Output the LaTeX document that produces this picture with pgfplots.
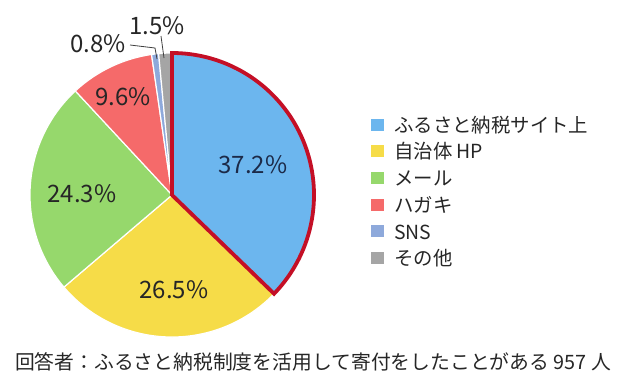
\documentclass[border=0pt]{standalone}
\usepackage{pgfplots}
\pgfplotsset{compat=1.18}
\usepackage{pgfplotstable}
\usepackage{fontspec}
\setmainfont{Noto Sans CJK JP}

\definecolor{cblue}{HTML}{6CB6EE}
\definecolor{cyellow}{HTML}{F6DC48}
\definecolor{cgreen}{HTML}{96D86C}
\definecolor{cred}{HTML}{F56A6A}
\definecolor{csns}{HTML}{8EA9DB}
\definecolor{cgray}{HTML}{A5A5A5}
\definecolor{cborder}{HTML}{C40F26}
\definecolor{ctext}{HTML}{262626}
\definecolor{cnavy}{HTML}{1C2A48}

\pgfplotstableread{
share
37.2
26.5
24.3
9.6
0.8
1.5
}\piedata

\begin{document}
\begin{tikzpicture}
\pgfplotstablegetelem{0}{share}\of\piedata\let\vA\pgfplotsretval
\pgfplotstablegetelem{1}{share}\of\piedata\let\vB\pgfplotsretval
\pgfplotstablegetelem{2}{share}\of\piedata\let\vC\pgfplotsretval
\pgfplotstablegetelem{3}{share}\of\piedata\let\vD\pgfplotsretval
\pgfplotstablegetelem{4}{share}\of\piedata\let\vE\pgfplotsretval
\pgfplotstablegetelem{5}{share}\of\piedata\let\vF\pgfplotsretval
\pgfmathsetmacro\tot{\vA+\vB+\vC+\vD+\vE+\vF}
\pgfmathsetmacro\aA{90}
\pgfmathsetmacro\aB{\aA-360*\vA/\tot}
\pgfmathsetmacro\aC{\aB-360*\vB/\tot}
\pgfmathsetmacro\aD{\aC-360*\vC/\tot}
\pgfmathsetmacro\aE{\aD-360*\vD/\tot}
\pgfmathsetmacro\aF{\aE-360*\vE/\tot}
\pgfmathsetmacro\aG{\aF-360*\vF/\tot}
\begin{axis}[
  scale only axis, width=630bp, height=388bp,
  xmin=0, xmax=630, ymin=0, ymax=388, y dir=reverse,
  hide axis, clip=false,
  legend style={at={(axis cs:370,118.2)}, anchor=north west, draw=none, fill=none,
    inner sep=0pt, outer sep=0pt, row sep=8.7bp,
    font=\fontsize{19.4bp}{22bp}\selectfont, text=ctext,
    nodes={inner sep=0pt, text height=14bp, text depth=4bp},
    cells={anchor=base west}},
  legend image code/.code={\fill[#1,draw=none] (0bp,0.7bp) rectangle (13bp,13.7bp);
    \path (0bp,0bp) rectangle (23bp,1bp);},
  every axis plot/.append style={samples=120, variable=\t, line join=miter},
]
\addplot[fill=cblue, draw=white, line width=1.2bp, domain=\aB:\aA] ({172+142*cos(\t)},{195-142*sin(\t)}) -- (axis cs:172,195) -- cycle;
\addplot[fill=cyellow, draw=white, line width=1.2bp, domain=\aC:\aB] ({172+142*cos(\t)},{195-142*sin(\t)}) -- (axis cs:172,195) -- cycle;
\addplot[fill=cgreen, draw=white, line width=1.2bp, domain=\aD:\aC] ({172+142*cos(\t)},{195-142*sin(\t)}) -- (axis cs:172,195) -- cycle;
\addplot[fill=cred, draw=white, line width=1.2bp, domain=\aE:\aD] ({172+142*cos(\t)},{195-142*sin(\t)}) -- (axis cs:172,195) -- cycle;
\addplot[fill=csns, draw=white, line width=1.2bp, domain=\aF:\aE, samples=10] ({172+142*cos(\t)},{195-142*sin(\t)}) -- (axis cs:172,195) -- cycle;
\addplot[fill=cgray, draw=white, line width=1.2bp, domain=\aG:\aF, samples=10] ({172+142*cos(\t)},{195-142*sin(\t)}) -- (axis cs:172,195) -- cycle;
\addplot[forget plot, draw=cborder, line width=3.8bp, fill=none, domain=\aB:\aA] ({172+142*cos(\t)},{195-142*sin(\t)}) -- (axis cs:172,195) -- cycle;
\addplot[forget plot, draw=black!75, line width=0.8bp] coordinates {(130,45) (155,48) (157,59)};
\addplot[forget plot, draw=black!75, line width=0.8bp] coordinates {(161,36) (164,58)};
\legend{ふるさと納税サイト上, 自治体 HP, メール, ハガキ, SNS, その他}
\begin{scope}[every node/.style={font=\fontsize{24bp}{28bp}\selectfont, text=ctext, inner sep=0pt}]
\node[text=cnavy] at (axis cs:253,165) {37.2\%};
\node at (axis cs:174,290) {26.5\%};
\node at (axis cs:82,194) {24.3\%};
\node at (axis cs:123,97) {9.6\%};
\node at (axis cs:98,44) {0.8\%};
\node at (axis cs:157,26) {1.5\%};
\end{scope}
\node[font=\fontsize{19.8bp}{23bp}\selectfont, text=ctext, inner sep=0pt] at (axis cs:313,362) {回答者：ふるさと納税制度を活用して寄付をしたことがある 957 人};
\end{axis}
\pgfresetboundingbox
\path (current axis.south west) rectangle (current axis.north east);
\end{tikzpicture}
\end{document}
